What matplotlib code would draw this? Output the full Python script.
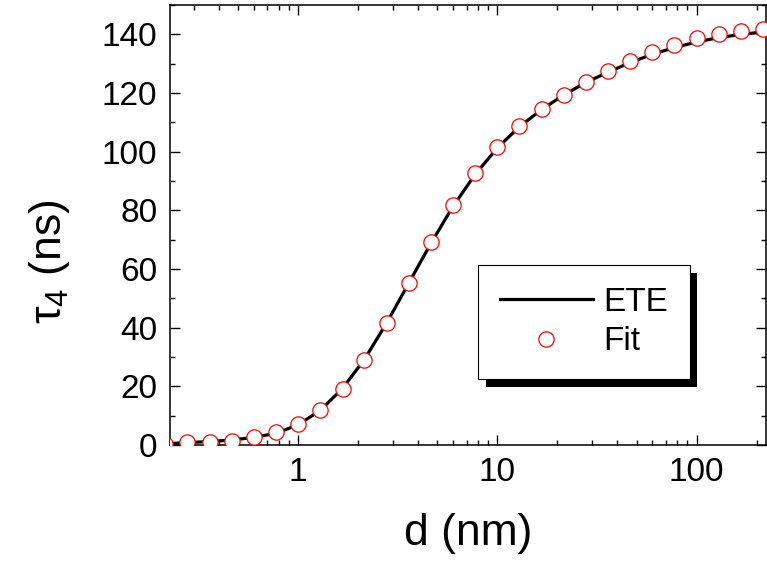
import matplotlib
matplotlib.use("Agg")
import matplotlib.pyplot as plt
import matplotlib.patheffects as pe
from matplotlib.ticker import LogLocator, MultipleLocator, FixedLocator

plt.rcParams['font.family'] = ['Liberation Sans', 'DejaVu Sans']
plt.rcParams['mathtext.fontset'] = 'custom'
plt.rcParams['mathtext.rm'] = 'Liberation Sans'
plt.rcParams['mathtext.it'] = 'Liberation Sans'

# d (nm) grid, 9 points per decade
d_nm = [0.215, 0.278, 0.359, 0.464, 0.599, 0.774, 1.0, 1.29, 1.67, 2.15, 2.78,
        3.59, 4.64, 5.99, 7.74, 10.0, 12.9, 16.7, 21.5, 27.8, 35.9, 46.4, 59.9,
        77.4, 100.0, 129.0, 167.0, 215.0]
# ETE curve (black line)
tau_ete = [0.4, 0.8, 1.2, 1.7, 2.6, 4.0, 6.9, 11.8, 19.3, 29.2, 41.6, 55.2,
           68.8, 81.4, 92.3, 101.3, 108.5, 114.4, 119.3, 123.6, 127.1, 130.4,
           133.2, 135.5, 137.4, 138.9, 140.0, 140.8]
# Fit (open red circles)
tau_fit = [0.5, 1.1, 1.1, 1.5, 2.6, 4.3, 7.2, 12.0, 19.0, 29.1, 41.6, 55.3,
           69.1, 81.7, 92.6, 101.5, 108.7, 114.6, 119.4, 123.7, 127.4, 130.9,
           134.0, 136.5, 138.6, 140.3, 141.2, 142.0]

fig = plt.figure(figsize=(7.67, 5.62), dpi=100)
ax = fig.add_axes([0.2216, 0.2082, 0.777, 0.7828])

ax.plot(d_nm, tau_ete, color='black', lw=2.3, label='ETE', zorder=2)
ax.plot(d_nm, tau_fit, ls='none', marker='o', ms=11, mfc='white', mec='red',
        mew=0.9, label='Fit', zorder=3)

ax.set_xscale('log')
ax.set_xlim(0.227, 223)
ax.set_ylim(0, 150)
ax.xaxis.set_major_locator(FixedLocator([1, 10, 100]))
ax.xaxis.set_major_formatter(matplotlib.ticker.FuncFormatter(lambda v, p: '%g' % v))
ax.xaxis.set_minor_locator(LogLocator(base=10, subs=range(2, 10)))
ax.xaxis.set_minor_formatter(matplotlib.ticker.NullFormatter())
ax.yaxis.set_major_locator(MultipleLocator(20))
ax.yaxis.set_minor_locator(MultipleLocator(10))

ax.tick_params(which='both', direction='in', top=True, right=True, width=1.0,
               labelsize=24)
ax.tick_params(which='major', length=7, pad=9)
ax.tick_params(which='minor', length=3.8)
for s in ax.spines.values():
    s.set_linewidth(1.1)

ax.set_xlabel('d (nm)', fontsize=32, labelpad=18)
ax.set_ylabel(r'τ$_4$ (ns)', fontsize=32)
ax.yaxis.set_label_coords(-0.165, 0.416)

leg = ax.legend(loc='lower left', bbox_to_anchor=(0.517, 0.15), borderaxespad=0,
                fontsize=24, numpoints=1, handlelength=2.8, handletextpad=0.3,
                borderpad=0.65, labelspacing=0.25, fancybox=False, framealpha=1)
frame = leg.get_frame()
frame.set_edgecolor('black')
frame.set_linewidth(0.8)
frame.set_path_effects([pe.SimplePatchShadow(offset=(5.5, -5.8), shadow_rgbFace='black',
                                             alpha=1.0), pe.Normal()])

fig.savefig('out.png', dpi=100)
